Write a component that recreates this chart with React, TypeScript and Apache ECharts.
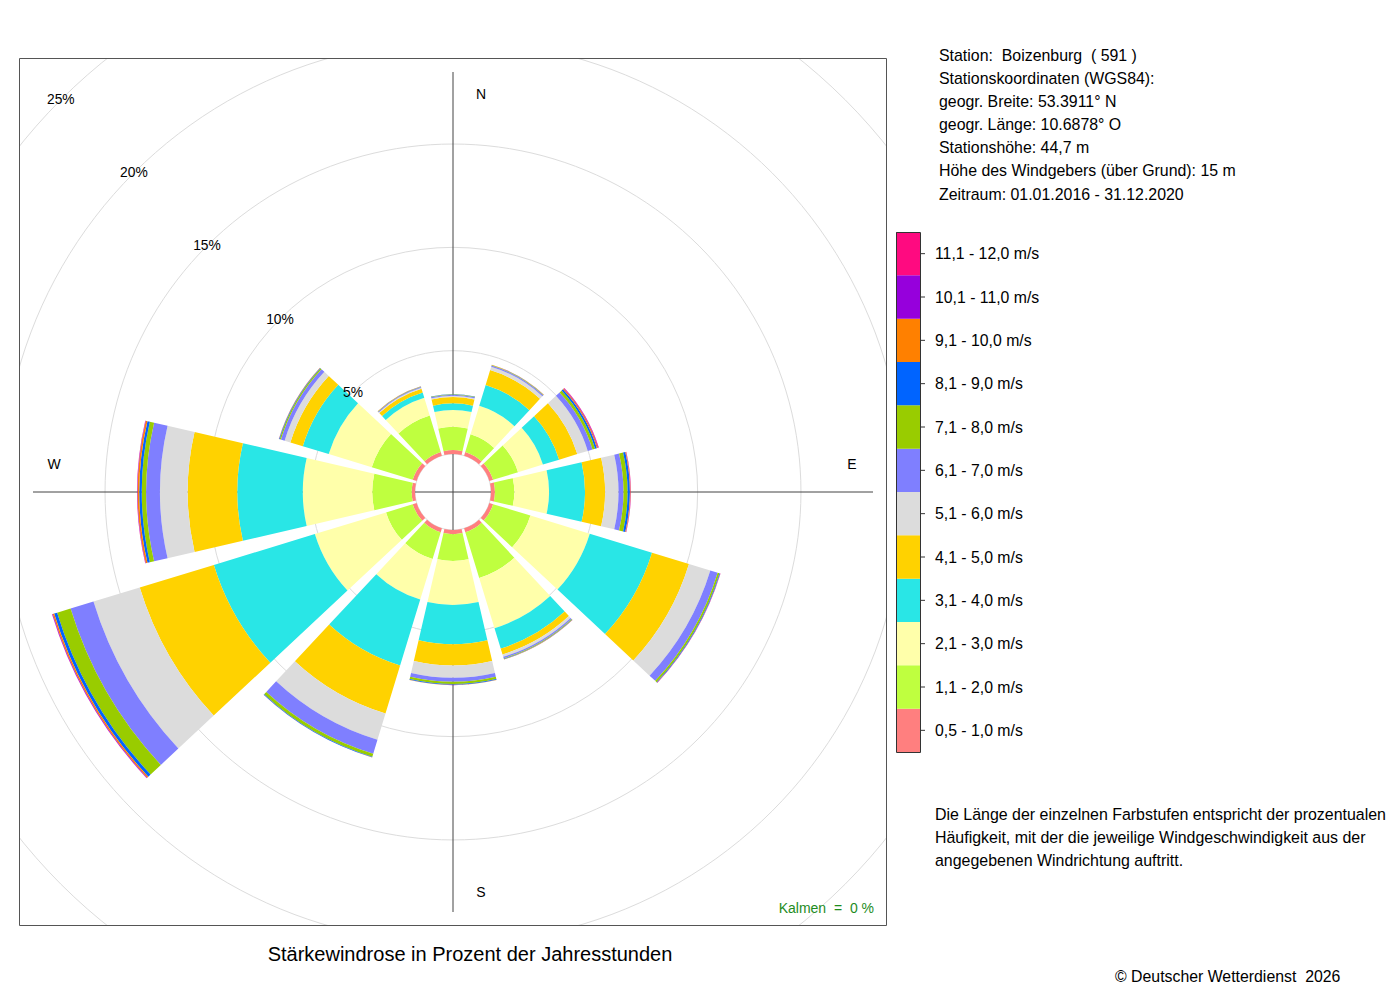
import React, { useEffect, useRef } from "react";
import * as echarts from "echarts";

// ---------- data ----------
const directions = ["N", "NNO", "ONO", "O", "OSO", "SSO", "S", "SSW", "WSW", "W", "WNW", "NNW"];

const speedClasses = [
  "0,5 - 1,0 m/s",
  "1,1 - 2,0 m/s",
  "2,1 - 3,0 m/s",
  "3,1 - 4,0 m/s",
  "4,1 - 5,0 m/s",
  "5,1 - 6,0 m/s",
  "6,1 - 7,0 m/s",
  "7,1 - 8,0 m/s",
  "8,1 - 9,0 m/s",
  "9,1 - 10,0 m/s",
  "10,1 - 11,0 m/s",
  "11,1 - 12,0 m/s",
];

const classColors = [
  "#FF7F7F",
  "#BFFF3F",
  "#FFFFAA",
  "#29E6E6",
  "#FFD200",
  "#DCDCDC",
  "#7F7FFF",
  "#99CC00",
  "#0064FF",
  "#FF8000",
  "#9600DC",
  "#FF0A80",
];

// percent of annual hours, per direction (N, NNO, ONO, O, OSO, SSO, S, SSW, WSW, W, WNW, NNW)
const v05_10 = [0.19, 0.19, 0.19, 0.19, 0.19, 0.2, 0.2, 0.2, 0.2, 0.16, 0.2, 0.19];
const v11_20 = [1.13, 0.89, 1.26, 0.94, 1.89, 2.31, 1.3, 1.35, 1.35, 1.91, 2.07, 1.84];
const v21_30 = [0.81, 1.44, 1.26, 1.68, 3.0, 2.54, 2.13, 2.05, 3.6, 3.36, 2.18, 0.9];
const v31_40 = [0.32, 1.06, 0.82, 1.74, 3.15, 1.03, 1.9, 3.34, 5.11, 3.17, 1.31, 0.26];
const v41_50 = [0.31, 0.75, 0.92, 0.97, 1.87, 0.3, 1.03, 2.43, 3.75, 2.4, 0.63, 0.2];
const v51_60 = [0.06, 0.17, 0.53, 0.65, 1.08, 0.12, 0.59, 1.33, 2.34, 1.34, 0.29, 0.04];
const v61_70 = [0.05, 0.06, 0.24, 0.24, 0.37, 0.07, 0.19, 0.7, 1.16, 0.67, 0.19, 0.04];
const v71_80 = [0.02, 0.02, 0.13, 0.2, 0.09, 0.03, 0.11, 0.15, 0.68, 0.21, 0.06, 0.02];
const v81_90 = [0.01, 0.01, 0.09, 0.11, 0.03, 0.02, 0.04, 0.03, 0.15, 0.12, 0.03, 0.01];
const v91_100 = [0.005, 0.01, 0.05, 0.03, 0.01, 0.01, 0.01, 0.01, 0.07, 0.08, 0.01, 0.005];
const v101_110 = [0, 0.005, 0.03, 0.01, 0.01, 0.005, 0.005, 0.005, 0.03, 0.02, 0.005, 0];
const v111_120 = [0, 0, 0.02, 0.01, 0.005, 0, 0, 0, 0.01, 0.01, 0, 0];

const classValues = [v05_10, v11_20, v21_30, v31_40, v41_50, v51_60, v61_70, v71_80, v81_90, v91_100, v101_110, v111_120];

const radiusTicks = [0, 5, 10, 15, 20, 25];
const compassLabels = ["N", "E", "S", "W"];

const stationInfo = [
  "Station:\u00A0 Boizenburg\u00A0 ( 591 )",
  "Stationskoordinaten (WGS84):",
  "geogr. Breite: 53.3911° N",
  "geogr. Länge: 10.6878° O",
  "Stationshöhe: 44,7 m",
  "Höhe des Windgebers (über Grund): 15 m",
  "Zeitraum: 01.01.2016 - 31.12.2020",
];

const noteLines = [
  "Die Länge der einzelnen Farbstufen entspricht der prozentualen",
  "Häufigkeit, mit der die jeweilige Windgeschwindigkeit aus der",
  "angegebenen Windrichtung auftritt.",
];

const titleText = "Stärkewindrose in Prozent der Jahresstunden";
const calmText = "Kalmen\u00A0 =\u00A0 0 %";
const copyrightText = "© Deutscher Wetterdienst\u00A0 2026";

// ---------- layout ----------
const FONT = "'Liberation Sans', Arial, Helvetica, sans-serif";
const CX = 453;
const CY = 492;
const R_IN = 38;
const R_OUT = 554.6;
const AXIS_HALF = 420;
const BOX = { x: 20, y: 59, w: 866, h: 866 };
const LEG = { x: 896, y: 232, w: 24, h: 520 };

function buildBaseOption(): any {
  return {
    animation: false,
    backgroundColor: "#ffffff",
    polar: [
      { center: [CX, CY], radius: [R_IN, R_OUT] },
      { center: [CX, CY], radius: [R_IN, R_OUT] },
    ],
    angleAxis: [
      {
        polarIndex: 0,
        type: "category",
        data: directions,
        startAngle: 105,
        clockwise: true,
        boundaryGap: true,
        axisLine: { show: false },
        axisTick: { show: false },
        axisLabel: { show: false },
        splitLine: { show: false },
      },
      {
        polarIndex: 1,
        type: "value",
        min: 0,
        max: 360,
        startAngle: 135,
        axisLine: { show: false },
        axisTick: { show: false },
        axisLabel: { show: false },
        splitLine: { show: false },
      },
    ],
    radiusAxis: [
      {
        polarIndex: 0,
        type: "value",
        min: 0,
        max: 25,
        axisLine: { show: false },
        axisTick: { show: false },
        axisLabel: { show: false },
        splitLine: { show: false },
      },
      {
        polarIndex: 1,
        type: "value",
        min: 0,
        max: 25,
        interval: 5,
        axisLine: { show: false },
        axisTick: { show: false },
        axisLabel: { show: false },
        splitLine: { show: true, lineStyle: { color: "#dcdcdc", width: 1 } },
      },
    ],
    series: classValues.map((vals, i) => ({
      type: "bar",
      name: speedClasses[i],
      coordinateSystem: "polar",
      polarIndex: 0,
      stack: "rose",
      data: vals,
      barCategoryGap: "13%",
      silent: true,
      itemStyle: { color: classColors[i], borderWidth: 0 },
      emphasis: { disabled: true },
    })),
  };
}

function textEl(text: string, x: number, y: number, size: number, align = "left", fill = "#000", z = 70): any {
  return {
    type: "text",
    x,
    y,
    z,
    silent: true,
    style: {
      text,
      fill,
      fontSize: size,
      fontFamily: FONT,
      align,
      verticalAlign: "middle",
    },
  };
}

export default function App() {
  const ref = useRef<HTMLDivElement>(null);

  useEffect(() => {
    document.body.style.margin = "0";
    if (!ref.current) return;
    const chart = echarts.init(ref.current, null, { renderer: "svg" });
    chart.setOption(buildBaseOption());

    const els: any[] = [];

    // axis cross (under bars)
    els.push({
      type: "line",
      z: 1,
      silent: true,
      shape: { x1: CX, y1: CY - AXIS_HALF, x2: CX, y2: CY + AXIS_HALF },
      style: { stroke: "#444", lineWidth: 1 },
    });
    els.push({
      type: "line",
      z: 1,
      silent: true,
      shape: { x1: CX - AXIS_HALF, y1: CY, x2: CX + AXIS_HALF, y2: CY },
      style: { stroke: "#444", lineWidth: 1 },
    });

    // radius labels on the grid circles (north-west diagonal)
    radiusTicks
      .filter((v) => v > 0)
      .forEach((v) => {
        let p: number[] | null = null;
        try {
          p = chart.convertToPixel({ polarIndex: 1 } as any, [v, 0]) as any;
        } catch (e) {
          p = null;
        }
        if (!p || !isFinite(p[0])) {
          const r = R_IN + (v / 25) * (R_OUT - R_IN);
          p = [CX - r * Math.SQRT1_2, CY - r * Math.SQRT1_2];
        }
        els.push(textEl(v + "%", p[0], p[1], 13.8, "center", "#000", 10));
      });

    // compass labels
    const LR = 399;
    const OFF = 28;
    const compassPos = [
      [CX + OFF, CY - LR + 1],
      [CX + LR, CY - OFF],
      [CX + OFF, CY + LR + 1],
      [CX - LR, CY - OFF],
    ];
    compassLabels.forEach((t, i) => els.push(textEl(t, compassPos[i][0], compassPos[i][1], 14, "center", "#000", 10)));

    // masks clipping grid circles to the plot box
    const W = 1400;
    const H = 1000;
    const maskStyle = { fill: "#ffffff" };
    els.push({ type: "rect", z: 50, silent: true, shape: { x: 0, y: 0, width: W, height: BOX.y }, style: maskStyle });
    els.push({ type: "rect", z: 50, silent: true, shape: { x: 0, y: 0, width: BOX.x, height: H }, style: maskStyle });
    els.push({ type: "rect", z: 50, silent: true, shape: { x: 0, y: BOX.y + BOX.h, width: W, height: H }, style: maskStyle });
    els.push({ type: "rect", z: 50, silent: true, shape: { x: BOX.x + BOX.w, y: 0, width: W, height: H }, style: maskStyle });

    // plot box
    els.push({
      type: "rect",
      z: 60,
      silent: true,
      shape: { x: BOX.x - 0.5, y: BOX.y - 0.5, width: BOX.w + 1, height: BOX.h + 1 },
      style: { fill: "none", stroke: "#555", lineWidth: 1 },
    });

    // calm
    els.push(textEl(calmText, 874, 908, 14, "right", "#1E8C1E", 70));

    // legend colour bar
    const n = speedClasses.length;
    const bh = LEG.h / n;
    for (let i = 0; i < n; i++) {
      const y0 = LEG.y + LEG.h - (i + 1) * bh;
      els.push({
        type: "rect",
        z: 60,
        silent: true,
        shape: { x: LEG.x, y: y0, width: LEG.w, height: bh },
        style: { fill: classColors[i] },
      });
      const yc = y0 + bh / 2;
      els.push({
        type: "line",
        z: 61,
        silent: true,
        shape: { x1: LEG.x + LEG.w, y1: yc, x2: LEG.x + LEG.w + 5, y2: yc },
        style: { stroke: "#333", lineWidth: 1 },
      });
      els.push(textEl(speedClasses[i], 935, yc, 15.8));
    }
    els.push({
      type: "rect",
      z: 62,
      silent: true,
      shape: { x: LEG.x + 0.5, y: LEG.y + 0.5, width: LEG.w, height: LEG.h },
      style: { fill: "none", stroke: "#333", lineWidth: 1 },
    });

    // station info
    stationInfo.forEach((t, i) => els.push(textEl(t, 939, 55 + i * 23.17, 15.9)));
    // note
    noteLines.forEach((t, i) => els.push(textEl(t, 935, 814 + i * 23, 15.95)));
    // title & copyright
    els.push(textEl(titleText, 470, 954, 20, "center"));
    els.push(textEl(copyrightText, 1115, 976, 15.85));

    chart.setOption({ graphic: { elements: els } });

    return () => {
      chart.dispose();
    };
  }, []);

  return (
    <div
      ref={ref}
      style={{ position: "absolute", left: 0, top: 0, width: 1400, height: 1000, background: "#fff" }}
    />
  );
}
